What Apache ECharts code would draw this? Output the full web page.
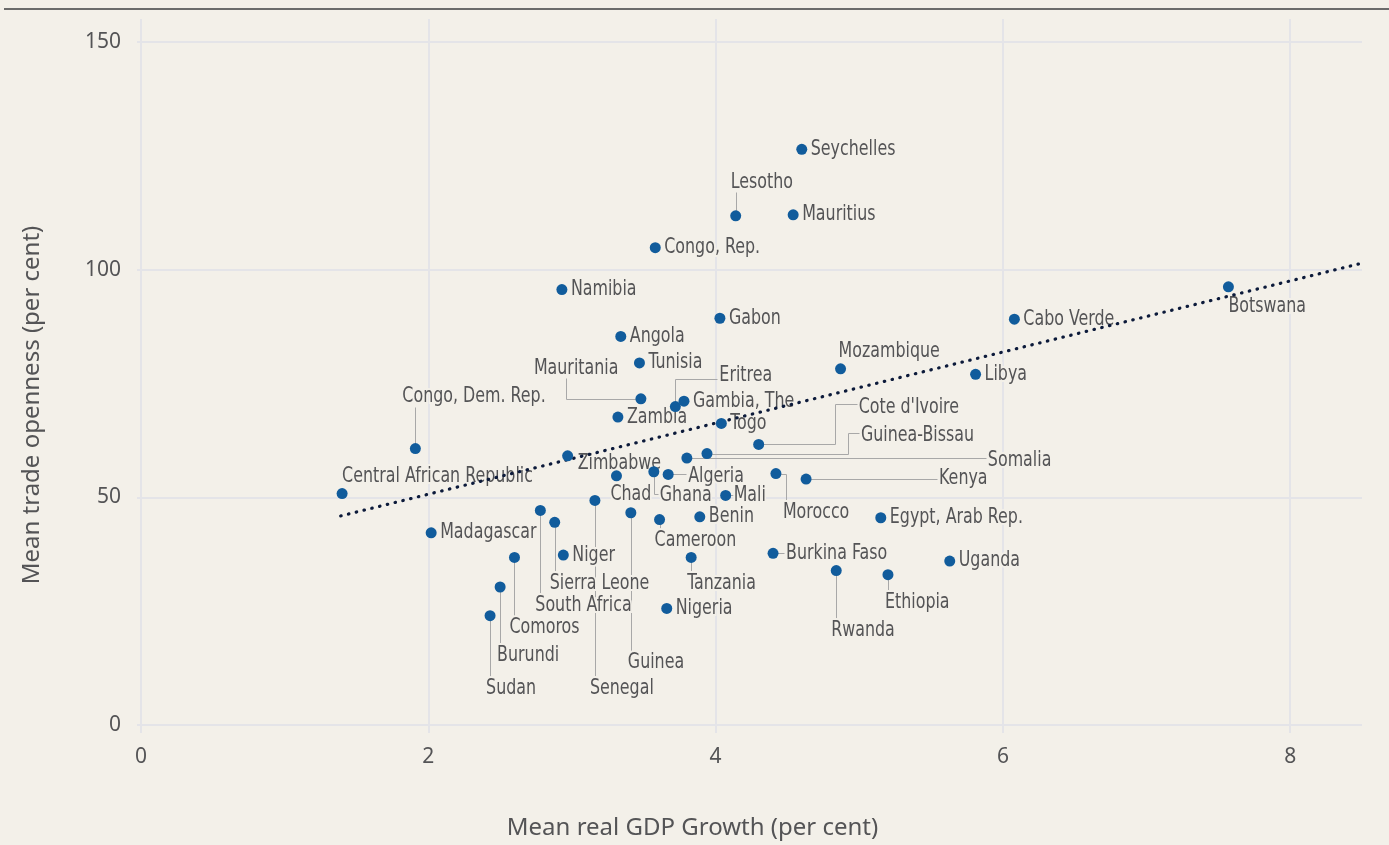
<!DOCTYPE html>
<html>
<head>
<meta charset="utf-8">
<style>
  html, body { margin: 0; padding: 0; background: #f3f0e9; }
  #chart { width: 1389px; height: 845px; }
</style>
<script src="https://cdn.jsdelivr.net/npm/echarts@6/dist/echarts.min.js"></script>
</head>
<body>
<div id="chart"></div>
<script>
// 国家与数值
var countries = ['Seychelles', 'Lesotho', 'Mauritius', 'Congo, Rep.', 'Namibia', 'Gabon', 'Angola', 'Tunisia',
  'Mauritania', 'Eritrea', 'Gambia, The', 'Zambia', 'Togo', 'Congo, Dem. Rep.', "Cote d'Ivoire", 'Guinea-Bissau',
  'Somalia', 'Zimbabwe', 'Central African Republic', 'Chad', 'Ghana', 'Algeria', 'Mali', 'Morocco', 'Kenya',
  'Egypt, Arab Rep.', 'Benin', 'Cameroon', 'Madagascar', 'Niger', 'Sierra Leone', 'South Africa', 'Senegal',
  'Guinea', 'Tanzania', 'Nigeria', 'Comoros', 'Burundi', 'Sudan', 'Burkina Faso', 'Rwanda', 'Ethiopia',
  'Uganda', 'Botswana', 'Cabo Verde', 'Libya', 'Mozambique']
var gdpGrowth = [4.60, 4.14, 4.54, 3.58, 2.93, 4.03, 3.34, 3.47,
  3.48, 3.72, 3.78, 3.32, 4.04, 1.91, 4.30, 3.94,
  3.80, 2.97, 1.40, 3.31, 3.57, 3.67, 4.07, 4.42, 4.63,
  5.15, 3.89, 3.61, 2.02, 2.94, 2.88, 2.78, 3.16,
  3.41, 3.83, 3.66, 2.60, 2.50, 2.43, 4.40, 4.84, 5.20,
  5.63, 7.57, 6.08, 5.81, 4.87]
var tradeOpenness = [126.4, 111.8, 112.0, 104.8, 95.6, 89.3, 85.3, 79.5,
  71.6, 69.9, 71.1, 67.6, 66.2, 60.7, 61.6, 59.6,
  58.6, 59.1, 50.8, 54.7, 55.6, 55.0, 50.4, 55.2, 54.0,
  45.5, 45.7, 45.1, 42.2, 37.3, 44.5, 47.1, 49.3,
  46.6, 36.8, 25.6, 36.8, 30.3, 24.0, 37.7, 33.9, 33.0,
  36.0, 96.2, 89.1, 77.0, 78.2]
// 趋势线两端
var trendX = [1.39, 8.5]
var trendY = [45.9, 101.4]
var xTicks = [0, 2, 4, 6, 8]
var yTicks = [0, 50, 100, 150]

// 标签位置 (像素偏移), 引线
var labelLayout = {
  'Lesotho': { dx: -5, dy: -33, line: [[0, 0], [0, -24]] },
  'Mauritania': { dx: -107, dy: -30, line: [[0, 0], [-75, 0], [-75, -21]] },
  'Eritrea': { dx: 44, dy: -31, line: [[0, 0], [0, -28], [42, -28]] },
  'Congo, Dem. Rep.': { dx: -13, dy: -52, line: [[0, 0], [0, -42]] },
  "Cote d'Ivoire": { dx: 100, dy: -37, line: [[0, 0], [76, 0], [76, -40], [98, -40]] },
  'Guinea-Bissau': { dx: 154, dy: -18, line: [[0, 0], [141, 0], [141, -21], [152, -21]] },
  'Somalia': { dx: 301, dy: 2, line: [[0, 0], [299, 0]] },
  'Zimbabwe': { dx: 10, dy: 8 },
  'Central African Republic': { dx: 0, dy: -17 },
  'Chad': { dx: -6, dy: 19 },
  'Ghana': { dx: 6, dy: 24, line: [[0, 0], [0, 22], [4, 22]] },
  'Algeria': { dx: 20, dy: 2, line: [[0, 0], [18, 0]] },
  'Mali': { dx: 8, line: [[0, 0], [7, 0]] },
  'Morocco': { dx: 7, dy: 39, line: [[0, 0], [10, 0], [10, 27]] },
  'Kenya': { dx: 133, dy: 0, line: [[0, 0], [131, 0]] },
  'Cameroon': { dx: -5, dy: 21, line: [[0, 0], [0, 10]] },
  'Sierra Leone': { dx: -5, dy: 61, line: [[0, 0], [0, 49]] },
  'South Africa': { dx: -5, dy: 95, line: [[0, 0], [0, 85]] },
  'Senegal': { dx: -5, dy: 188, line: [[0, 0], [0, 179]] },
  'Guinea': { dx: -3, dy: 150, line: [[0, 0], [0, 140]] },
  'Tanzania': { dx: -4, dy: 26, line: [[0, 0], [0, 15]] },
  'Comoros': { dx: -5, dy: 70, line: [[0, 0], [0, 59]] },
  'Burundi': { dx: -3, dy: 69, line: [[0, 0], [0, 58]] },
  'Sudan': { dx: -4, dy: 73, line: [[0, 0], [0, 62]] },
  'Burkina Faso': { dx: 13, line: [[0, 0], [11, 0]] },
  'Rwanda': { dx: -5, dy: 60, line: [[0, 0], [0, 50]] },
  'Ethiopia': { dx: -3, dy: 28, line: [[0, 0], [0, 17]] },
  'Botswana': { dx: 0, dy: 20 },
  'Mozambique': { dx: -2, dy: -17 }
}

var bg = '#f3f0e9'
var gridColor = '#e4e4e8'
var textColor = '#545456'
var labelFont = '21px "Liberation Sans Narrow", "DejaVu Sans Condensed", "Noto Sans"'

var points = countries.map(function (c, i) { return [gdpGrowth[i], tradeOpenness[i]] })
var trend = trendX.map(function (x, i) { return [x, trendY[i]] })

function renderLabel(params, api) {
  var p = api.coord([api.value(0), api.value(1)])
  var name = countries[params.dataIndex]
  var lay = labelLayout[name] || {}
  var dx = lay.dx == null ? 9 : lay.dx
  var dy = lay.dy == null ? 0 : lay.dy
  var children = []
  if (lay.line) {
    children.push({
      type: 'polyline',
      shape: { points: lay.line.map(function (q) { return [Math.round(p[0] + q[0]) + 0.5, Math.round(p[1] + q[1]) + 0.5] }) },
      style: { stroke: '#a8a8a8', lineWidth: 1, fill: null },
      z2: 1
    })
  }
  children.push({
    type: 'text',
    x: p[0] + dx,
    y: p[1] + dy,
    scaleX: 0.84,
    style: {
      text: name, font: labelFont, fill: textColor,
      align: 'left', verticalAlign: 'middle',
      stroke: bg, lineWidth: 4, strokeFirst: true
    },
    z2: 2
  })
  return { type: 'group', children: children }
}

var myChart = echarts.init(document.getElementById('chart'))
var option = {
  backgroundColor: bg,
  animation: false,
  graphic: [{
    type: 'rect', shape: { x: 4, y: 8, width: 1385, height: 2 }, style: { fill: '#6b6b6b' }
  }],
  grid: { left: 141, right: 27, top: 19, bottom: 120, containLabel: false, outerBoundsMode: 'none' },
  xAxis: {
    type: 'value', min: 0, max: 8.5, interval: 2,
    name: 'Mean real GDP Growth (per cent)', nameLocation: 'middle', nameGap: 91,
    nameTextStyle: { color: textColor, fontSize: 24, fontFamily: 'Noto Sans', padding: [0, 118, 0, 0] },
    axisLine: { show: false },
    axisTick: { show: true, length: 8, lineStyle: { color: gridColor, width: 2 } },
    splitLine: { show: true, showMaxLine: false, lineStyle: { color: gridColor, width: 2 } },
    axisLabel: {
      color: textColor, fontSize: 21, fontFamily: 'Noto Sans', margin: 22, showMaxLabel: false,
      formatter: function (v) { return xTicks.indexOf(v) >= 0 ? String(v) : '' }
    }
  },
  yAxis: {
    type: 'value', min: 0, max: 155, interval: 50,
    name: 'Mean trade openness (per cent)', nameLocation: 'middle', nameGap: 97,
    nameTextStyle: { color: textColor, fontSize: 24, fontFamily: 'Noto Sans', padding: [0, 66, 0, 0] },
    axisLine: { show: false },
    axisTick: { show: true, length: 4, lineStyle: { color: gridColor, width: 2 } },
    splitLine: { show: true, showMaxLine: false, lineStyle: { color: gridColor, width: 2 } },
    axisLabel: {
      color: textColor, fontSize: 21, fontFamily: 'Noto Sans', margin: 20, showMaxLabel: false,
      formatter: function (v) { return yTicks.indexOf(v) >= 0 ? String(v) : '' }
    }
  },
  series: [
    {
      name: 'labels', type: 'custom', z: 2, silent: true,
      renderItem: renderLabel, data: points
    },
    {
      name: 'trend', type: 'line', z: 3, symbol: 'none', silent: true,
      data: trend,
      lineStyle: { color: '#0c1a3a', width: 3.2, type: [0.5, 7.5], cap: 'round' }
    },
    {
      name: 'countries', type: 'scatter', z: 4, symbolSize: 11,
      itemStyle: { color: '#115c9c', opacity: 1 },
      data: points
    }
  ]
}
myChart.setOption(option)
</script>
</body>
</html>
